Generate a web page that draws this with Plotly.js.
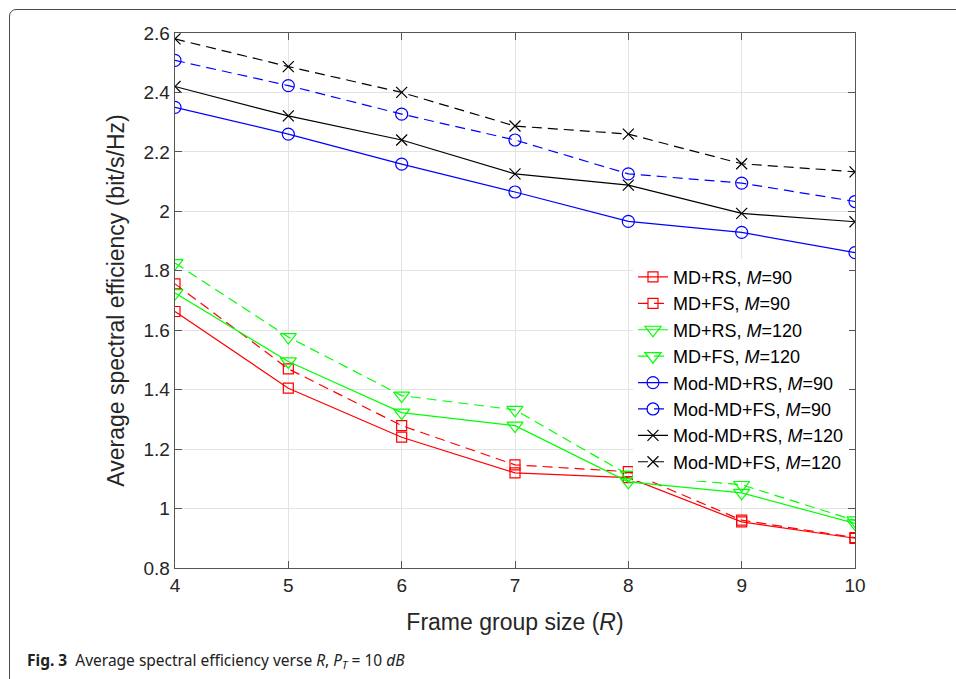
<!DOCTYPE html>
<html>
<head>
<meta charset="utf-8">
<script src="https://cdn.plot.ly/plotly-3.0.1.min.js"></script>
<style>
  html, body { margin: 0; padding: 0; background: #fff; }
  #chart { width: 956px; height: 679px; }
  #frame { position: absolute; left: 9px; top: 9px; width: 1100px; height: 1100px;
           border: 1.5px solid #4a4a4a; border-radius: 7px; pointer-events: none; }
</style>
</head>
<body>
<div id="chart"></div>
<div id="frame"></div>
<script>
// Frame group size R
const R = [4, 5, 6, 7, 8, 9, 10];

// Average spectral efficiency (bit/s/Hz)
const mdRS90      = [1.663, 1.405, 1.240, 1.120, 1.104, 0.955, 0.900];
const mdFS90      = [1.756, 1.470, 1.279, 1.147, 1.124, 0.961, 0.902];
const mdRS120     = [1.725, 1.495, 1.323, 1.279, 1.090, 1.053, 0.950];
const mdFS120     = [1.826, 1.577, 1.380, 1.332, 1.113, 1.080, 0.960];
const modMdRS90   = [2.350, 2.260, 2.159, 2.065, 1.966, 1.929, 1.861];
const modMdFS90   = [2.508, 2.423, 2.327, 2.240, 2.126, 2.095, 2.033];
const modMdRS120  = [2.420, 2.321, 2.240, 2.126, 2.088, 1.993, 1.965];
const modMdFS120  = [2.580, 2.487, 2.400, 2.287, 2.260, 2.160, 2.133];

const names = [
  'MD+RS, <i>M</i>=90', 'MD+FS, <i>M</i>=90',
  'MD+RS, <i>M</i>=120', 'MD+FS, <i>M</i>=120',
  'Mod-MD+RS, <i>M</i>=90', 'Mod-MD+FS, <i>M</i>=90',
  'Mod-MD+RS, <i>M</i>=120', 'Mod-MD+FS, <i>M</i>=120'
];

const xTickVals = [4, 5, 6, 7, 8, 9, 10];
const xTickText = ['4', '5', '6', '7', '8', '9', '10'];
const yTickVals = [0.8, 1.0, 1.2, 1.4, 1.6, 1.8, 2.0, 2.2, 2.4, 2.6];
const yTickText = ['0.8', '1', '1.2', '1.4', '1.6', '1.8', '2', '2.2', '2.4', '2.6'];

const DASH = '10px,6px';
function tr(y, name, color, dash, symbol, size) {
  return {
    x: R, y: y, name: name, type: 'scatter', mode: 'lines+markers',
    line: { color: color, width: 1.2, dash: dash },
    marker: { symbol: symbol, size: size, color: color, line: { color: color, width: 1.2 } }
  };
}

const data = [
  tr(mdRS90,     names[0], '#ff0000', 'solid', 'square-open', 10),
  tr(mdFS90,     names[1], '#ff0000', DASH,    'square-open', 10),
  tr(mdRS120,    names[2], '#00ff00', 'solid', 'triangle-down-open', 14),
  tr(mdFS120,    names[3], '#00ff00', DASH,    'triangle-down-open', 14),
  tr(modMdRS90,  names[4], '#0000ff', 'solid', 'circle-open', 12),
  tr(modMdFS90,  names[5], '#0000ff', DASH,    'circle-open', 12),
  tr(modMdRS120, names[6], '#000000', 'solid', 'x-thin-open', 11),
  tr(modMdFS120, names[7], '#000000', DASH,    'x-thin-open', 11)
];

const font = 'Liberation Sans, Arial, Helvetica, sans-serif';
const layout = {
  width: 956, height: 679,
  margin: { l: 175, r: 101, t: 33, b: 111 },
  paper_bgcolor: '#ffffff', plot_bgcolor: '#ffffff',
  font: { family: font, color: '#262626', size: 19 },
  showlegend: true,
  legend: {
    x: 0.6735, y: 0.578, xanchor: 'left', yanchor: 'top',
    bgcolor: '#ffffff', borderwidth: 0,
    font: { family: font, size: 18, color: '#000' },
    traceorder: 'normal'
  },
  xaxis: {
    range: [4, 10], tickvals: xTickVals, ticktext: xTickText,
    showgrid: true, gridcolor: '#e3e3e3', gridwidth: 1,
    showline: true, linecolor: '#555', linewidth: 1.3, mirror: 'ticks',
    ticks: 'inside', ticklen: 7, tickcolor: '#555', zeroline: false,
    tickfont: { size: 19, color: '#262626' },
    title: { text: 'Frame group size (<i>R</i>)', font: { size: 23, color: '#262626' }, standoff: 18 }
  },
  yaxis: {
    range: [0.8, 2.6], tickvals: yTickVals, ticktext: yTickText,
    showgrid: true, gridcolor: '#e3e3e3', gridwidth: 1,
    showline: true, linecolor: '#555', linewidth: 1.3, mirror: 'ticks',
    ticks: 'inside', ticklen: 7, tickcolor: '#555', zeroline: false,
    tickfont: { size: 19, color: '#262626' },
    title: { text: 'Average spectral efficiency (bit/s/Hz)', font: { size: 23, color: '#262626' }, standoff: 12 }
  },
  annotations: [{
    xref: 'paper', yref: 'paper', x: -0.221, y: -0.172, xanchor: 'left', yanchor: 'middle',
    showarrow: false, align: 'left',
    font: { family: 'Noto Sans, Open Sans, sans-serif', size: 15.5, color: '#222' },
    text: '<b>Fig. 3</b>  Average spectral efficiency verse <i>R</i>, <i>P</i><sub><i>T</i></sub> = 10 <i>dB</i>'
  }]
};

Plotly.newPlot('chart', data, layout, { displayModeBar: false, staticPlot: true });
</script>
</body>
</html>
